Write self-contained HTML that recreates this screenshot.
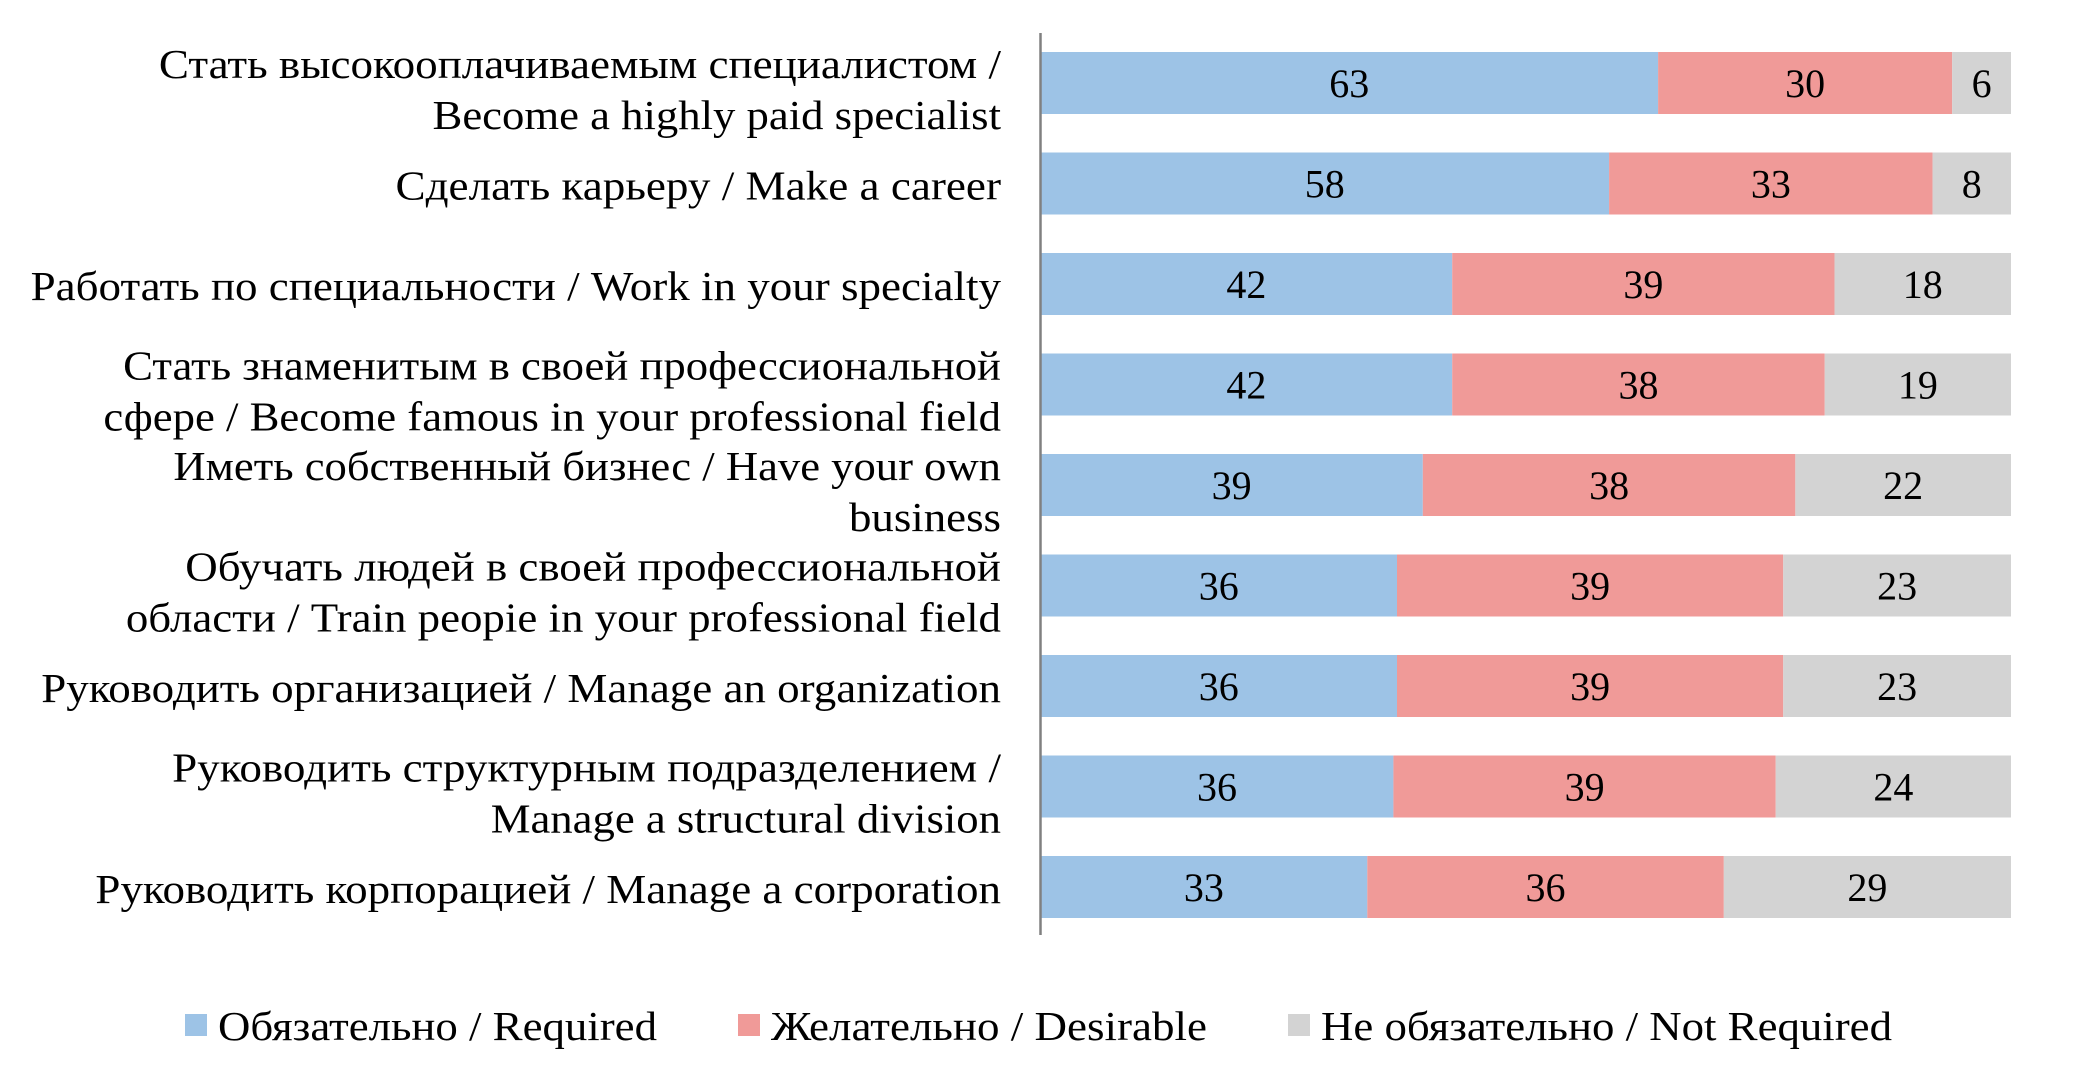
<!DOCTYPE html>
<html><head><meta charset="utf-8"><style>
html,body{margin:0;padding:0;background:#fff;}
svg{display:block;}
text{font-family:"Liberation Serif","Noto Serif CJK SC",serif;fill:#000;}
</style></head><body>
<svg id="chart" width="2073" height="1087" viewBox="0 0 2073 1087" xmlns="http://www.w3.org/2000/svg"></svg>
<script>
const categoriesL1 = ["Стать высокооплачиваемым специалистом /","Сделать карьеру / Make a career","Работать по специальности / Work in your specialty","Стать знаменитым в своей профессиональной","Иметь собственный бизнес / Have your own","Обучать людей в своей профессиональной","Руководить организацией / Manage an organization","Руководить структурным подразделением /","Руководить корпорацией / Manage a corporation"];
const categoriesL2 = ["Become a highly paid specialist","","","сфере / Become famous in your professional field","business","области / Train peopie in your professional field","","Manage a structural division",""];
const requiredVals = [63,58,42,42,39,36,36,36,33];
const desirableVals = [30,33,39,38,38,39,39,39,36];
const notRequiredVals = [6,8,18,19,22,23,23,24,29];
const seriesNames = ["Обязательно / Required","Желательно / Desirable","Не обязательно / Not Required"];
const colors = ["#9dc3e6","#f09a98","#d3d3d3"];
const w1 = [637,458,734,664,626,617,726,627,685];
const w2 = [430,0,0,679,115,662,0,386,0];

const NS="http://www.w3.org/2000/svg";
const svg=document.getElementById('chart');
const S=1.322;
const x0=1040.5, x1=2011, yTop=52, step=100.5, barH=62;
function xScale(frac){return x0+(x1-x0)*frac;}
function yScale(i){return yTop+i*step;}
function mk(tag,attrs){const e=document.createElementNS(NS,tag);for(const k in attrs)e.setAttribute(k,attrs[k]);svg.appendChild(e);return e;}

const series=[requiredVals,desirableVals,notRequiredVals];
const snames=['required','desirable','not-required'];
for(let i=0;i<categoriesL1.length;i++){
  const tot=requiredVals[i]+desirableVals[i]+notRequiredVals[i];
  let acc=0;
  for(let s=0;s<3;s++){
    const v=series[s][i];
    const xa=xScale(acc/tot), xb=xScale((acc+v)/tot);
    const r=mk('rect',{x:xa,y:yScale(i),width:xb-xa,height:barH,fill:colors[s]});
    
    
    const t=mk('text',{x:(xa+xb)/2,y:yScale(i)+barH/2+14,'text-anchor':'middle','font-size':40});
    t.textContent=v;
    
    
    acc+=v;
  }
  const cy=yScale(i)+barH/2;
  if(categoriesL2[i]){
    const a=mk('text',{x:1001,y:cy-5,'text-anchor':'end','font-size':41,textLength:w1[i]*S,lengthAdjust:'spacingAndGlyphs'});
    a.textContent=categoriesL1[i];
    
    
    const b=mk('text',{x:1001,y:cy+46,'text-anchor':'end','font-size':41,textLength:w2[i]*S,lengthAdjust:'spacingAndGlyphs'});
    b.textContent=categoriesL2[i];
    
    
  } else {
    const a=mk('text',{x:1001,y:cy+16,'text-anchor':'end','font-size':41,textLength:w1[i]*S,lengthAdjust:'spacingAndGlyphs'});
    a.textContent=categoriesL1[i];
    
    
  }
}
const ax=mk('line',{x1:x0,y1:33,x2:x0,y2:935,stroke:'#808080','stroke-width':2.5});



const legX=[185,738,1288], legTX=[218,771,1321], legW=[439,436,571];
for(let s=0;s<3;s++){
  const r=mk('rect',{x:legX[s],y:1014,width:22,height:22,fill:colors[s]});
  
  
  const t=mk('text',{x:legTX[s],y:1040,'font-size':41,textLength:legW[s],lengthAdjust:'spacingAndGlyphs'});
  t.textContent=seriesNames[s];
  
  
}
</script>
</body></html>
